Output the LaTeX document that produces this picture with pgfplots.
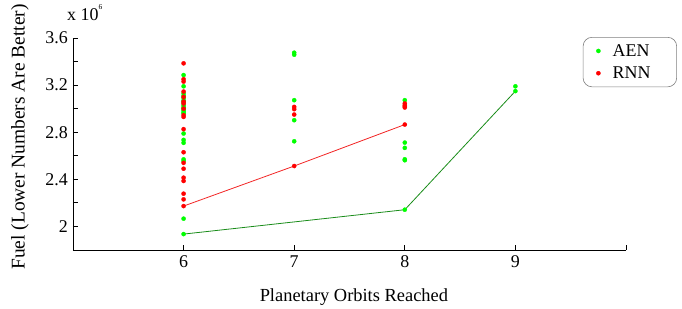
\documentclass[border=0pt]{standalone}
\usepackage{pgfplots}
\pgfplotsset{compat=1.18}
\usepackage{fontspec}
\setmainfont{Liberation Serif}
\definecolor{aen}{rgb}{0,1,0}
\definecolor{rnn}{rgb}{1,0,0}
\definecolor{aenline}{rgb}{0.1,0.55,0.1}
\definecolor{rnnline}{rgb}{0.95,0.15,0.15}
\begin{document}
\begin{tikzpicture}
\path[use as bounding box] (-73bp,-59bp) rectangle (609bp,250bp);
\begin{axis}[
  at={(0,0)}, anchor=south west, scale only axis,
  width=553bp, height=212bp,
  xmin=5, xmax=10, ymin=1.8, ymax=3.6,
  axis x line=bottom, axis y line=left,
  axis line style={-, line width=0.9bp, black},
  tick align=inside, major tick length=5bp,
  tick style={black, line width=0.8bp},
  xtick={6,7,8,9,10}, xticklabels={6,7,8,9,{}},
  ytick={2,2.2,2.4,2.6,2.8,3.0,3.2,3.4,3.6},
  yticklabels={2,,2.4,,2.8,,3.2,,3.6},
  font=\fontsize{18}{22}\selectfont,
  ticklabel style={font=\fontsize{18}{22}\selectfont},
  xticklabel style={anchor=base, yshift=-17bp},
  yticklabel style={anchor=east, inner xsep=0pt, xshift=-5bp},
  xlabel={Planetary Orbits Reached},
  ylabel={Fuel (Lower Numbers Are Better)},
  xlabel style={at={(axis description cs:0.508,-0.245)}, anchor=base, font=\fontsize{18.5}{22}\selectfont},
  ylabel style={at={(axis description cs:-0.096,0.533)}, anchor=center, font=\fontsize{19.5}{22}\selectfont},
  legend style={at={(axis description cs:1.0922,1.0047)}, anchor=north east,
    draw={rgb,1:red,0.5;green,0.5;blue,0.5}, rounded corners=9bp, line width=0.6bp,
    inner xsep=3bp, inner ysep=5bp, row sep=5bp,
    font=\fontsize{18}{22}\selectfont, fill=white},
  legend cell align=left,
  legend image code/.code={\path (0bp,0bp) (24bp,0bp); \draw[mark repeat=2,mark phase=2,#1] plot coordinates {(0bp,0bp)(12bp,0bp)(24bp,0bp)};},
  clip=false,
]
\addplot[rnnline, line width=0.8bp, forget plot] coordinates {(6,2.173) (7,2.513) (8,2.865)};
\addplot[aenline, line width=0.8bp, forget plot] coordinates {(6,1.935) (8,2.142) (9,3.149)};
\addplot[only marks, mark=*, mark size=2.1bp, color=aen, mark options={fill=aen, draw=aen, line width=0.3bp}] coordinates {
(6,3.285) (6,3.19) (6,3.13) (6,3.11) (6,3.09) (6,3.07) (6,3.055) (6,3.03) (6,3.015) (6,3.0) (6,2.985) (6,2.97) (6,2.96)
(6,2.789) (6,2.735) (6,2.71) (6,2.57) (6,2.556) (6,2.066) (6,1.935)
(7,3.475) (7,3.458) (7,3.072) (7,2.902) (7,2.723)
(8,3.072) (8,2.712) (8,2.667) (8,2.57) (8,2.562) (8,2.142)
(9,3.19) (9,3.149)
};
\addlegendentry{\makebox[59bp][l]{AEN}}
\addplot[only marks, mark=*, mark size=2.1bp, color=rnn, mark options={fill=rnn, draw=rnn, line width=0.3bp}] coordinates {
(6,3.385) (6,3.25) (6,3.23) (6,3.145) (6,3.10) (6,3.06) (6,3.044) (6,3.0) (6,2.945) (6,2.93)
(6,2.826) (6,2.63) (6,2.54) (6,2.49) (6,2.414) (6,2.386) (6,2.278) (6,2.23) (6,2.173)
(7,3.015) (7,2.996) (7,2.95) (7,2.513)
(8,3.044) (8,3.03) (8,3.02) (8,3.01) (8,2.865)
};
\addlegendentry{\makebox[59bp][l]{RNN}}
\node[anchor=base west, inner sep=0pt, font=\fontsize{18}{22}\selectfont] at ([xshift=-6bp,yshift=17bp]rel axis cs:0,1) {x 10\raisebox{11bp}{\fontsize{7.5}{8}\selectfont 6}};
\end{axis}
\end{tikzpicture}
\end{document}
